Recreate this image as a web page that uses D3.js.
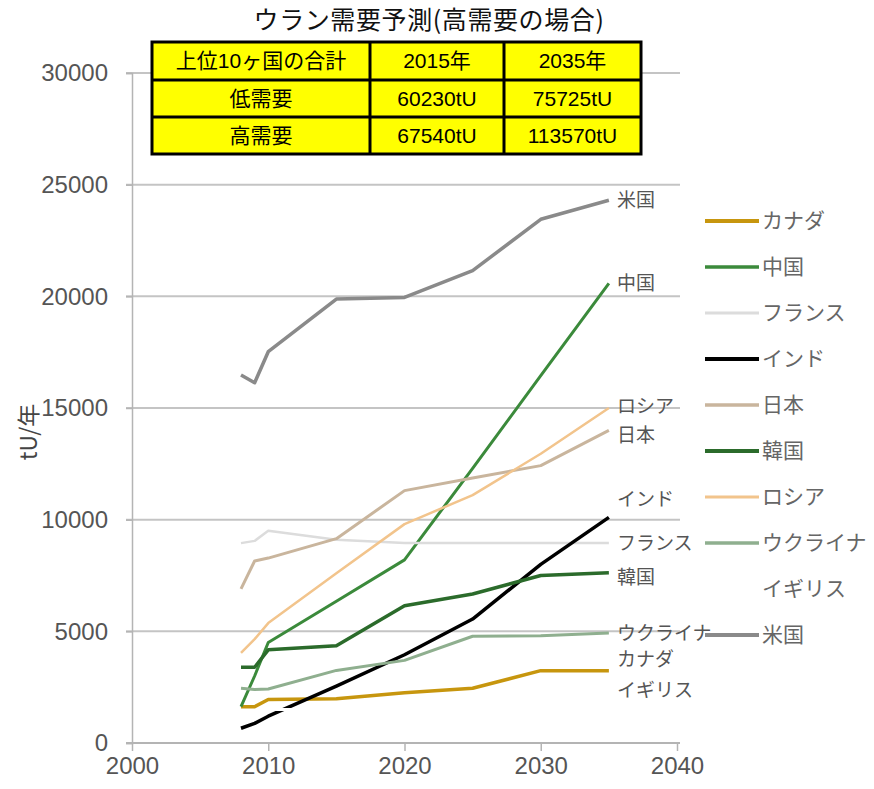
<!DOCTYPE html>
<html><head><meta charset="utf-8">
<script src="https://cdn.jsdelivr.net/npm/d3@7"></script>
<style>
body{margin:0;background:#fff}
svg{display:block}
</style>
</head><body>
<svg id="chart" width="874" height="789"></svg>
<script>
// Uranium demand projection (high-demand case), tU per year
const years = [2008, 2009, 2010, 2015, 2020, 2025, 2030, 2035];
const countries = ["カナダ", "中国", "フランス", "インド", "日本", "韓国", "ロシア", "ウクライナ", "イギリス", "米国"];
const canada  = [1625, 1625, 1950, 1980, 2250, 2450, 3240, 3240];
const china   = [1630, 3000, 4500, 6350, 8200, 12300, 16450, 20580];
const france  = [8950, 9050, 9500, 9100, 8950, 8950, 8950, 8950];
const india   = [660, 880, 1200, 2550, 3950, 5550, 8000, 10100];
const japan   = [6900, 8150, 8280, 9150, 11300, 11870, 12420, 14000];
const korea   = [3390, 3390, 4170, 4350, 6150, 6670, 7500, 7620];
const russia  = [4030, 4650, 5370, 7600, 9800, 11100, 12950, 15000];
const ukraine = [2450, 2400, 2420, 3250, 3700, 4780, 4800, 4920];
const uk      = [1300, 1400, 1500, 1500, 1500, 1500, 1500, 1500];
const usa     = [16480, 16130, 17520, 19880, 19950, 21150, 23450, 24300];
const seriesValues = [canada, china, france, india, japan, korea, russia, ukraine, uk, usa];

const xTicks = [2000, 2010, 2020, 2030, 2040];
const yTicks = [0, 5000, 10000, 15000, 20000, 25000, 30000];

const chartTitle = "ウラン需要予測(高需要の場合)";
const yTitle = "tU/年";
const tableHeader = ["上位10ヶ国の合計", "2015年", "2035年"];
const tableLabels = ["低需要", "高需要"];
const table2015 = ["60230tU", "67540tU"];
const table2035 = ["75725tU", "113570tU"];

// styling per series (same order as countries)
const colors = ["#c7960e", "#3b8a3b", "#dcdcdc", "#000000", "#c9b59d",
                "#2b6b2b", "#f2c48c", "#8faf8f", "#ffffff", "#8a8a8a"];
const widths = [3.5, 3, 2.5, 3.5, 3, 3.5, 2.5, 3, 3, 3.5];
// vertical nudges (px) for end-of-line labels so they do not collide
const labelNudge = {"インド": -18, "韓国": 5, "カナダ": -11, "イギリス": -19, "ロシア": -2, "日本": 5};

const svg = d3.select("#chart");
const latin = "'Liberation Sans', Arial, 'Noto Sans CJK JP', sans-serif";
const jp = "'Noto Sans CJK JP', 'Liberation Sans', sans-serif";
const textGray = "#555";

const x = d3.scaleLinear().domain([2000, 2040]).range([132, 677]);
const y = d3.scaleLinear().domain([0, 30000]).range([743, 73]);

// horizontal gridlines
svg.append("g")
  .selectAll("line").data(yTicks.filter(d => d > 0)).join("line")
  .attr("x1", 126).attr("x2", 680)
  .attr("y1", d => y(d)).attr("y2", d => y(d))
  .attr("stroke", "#c4c4c4").attr("stroke-width", 2);

// y axis
const yAxis = svg.append("g").attr("transform", `translate(${x(2000)},0)`)
  .call(d3.axisLeft(y).tickValues(yTicks).tickSize(6).tickPadding(18).tickFormat(d3.format("d")));
yAxis.select(".domain").attr("stroke", "#b4b4b4").attr("stroke-width", 1.5);
yAxis.selectAll(".tick line").attr("stroke", "#b4b4b4").attr("stroke-width", 1.5);
yAxis.selectAll("text").attr("font-family", latin).attr("font-size", 24).attr("fill", textGray);

// x axis
const xAxis = svg.append("g").attr("transform", `translate(0,${y(0)})`)
  .call(d3.axisBottom(x).tickValues(xTicks).tickSize(8).tickPadding(6).tickFormat(d3.format("d")));
xAxis.select(".domain").attr("stroke", "#b4b4b4").attr("stroke-width", 2).attr("d", `M126,0H680`);
xAxis.selectAll(".tick line").attr("stroke", "#b4b4b4").attr("stroke-width", 1.5);
xAxis.selectAll("text").attr("font-family", latin).attr("font-size", 24).attr("fill", textGray);

// y axis title
svg.append("text")
  .attr("transform", "translate(37,432) rotate(-90)")
  .attr("text-anchor", "middle")
  .attr("font-family", jp).attr("font-size", 23).attr("fill", "#444")
  .text(yTitle);

// lines
const line = d3.line().x((d, i) => x(years[i])).y(d => y(d));
svg.append("g").selectAll("path").data(seriesValues).join("path")
  .attr("d", d => line(d))
  .attr("fill", "none")
  .attr("stroke", (d, i) => colors[i])
  .attr("stroke-width", (d, i) => widths[i])
  .attr("stroke-linejoin", "round");

// labels at line ends
svg.append("g").selectAll("text").data(countries).join("text")
  .attr("x", x(years[years.length - 1]) + 8)
  .attr("y", (c, i) => y(seriesValues[i][years.length - 1]) + (labelNudge[c] || 0))
  .attr("dy", "0.35em")
  .attr("font-family", jp).attr("font-size", 19).attr("fill", textGray)
  .text(c => c);

// legend
const legend = svg.append("g").selectAll("g").data(countries).join("g")
  .attr("transform", (c, i) => `translate(705,${221 + i * 46})`);
legend.append("line").attr("x1", 0).attr("x2", 54).attr("y1", 0).attr("y2", 0)
  .attr("stroke", (c, i) => colors[i]).attr("stroke-width", (c, i) => widths[i] + 0.5);
legend.append("text").attr("x", 57).attr("dy", "0.35em")
  .attr("font-family", jp).attr("font-size", 21).attr("fill", "#666")
  .text(c => c);

// title
svg.append("text").attr("x", 429).attr("y", 29).attr("text-anchor", "middle")
  .attr("font-family", jp).attr("font-size", 25).attr("letter-spacing", 0.6).attr("fill", "#111")
  .text(chartTitle);

// summary table
const colEdges = [152, 370, 504, 641];
const rowEdges = [42, 80, 117, 154];
const cells = [tableHeader,
  [tableLabels[0], table2015[0], table2035[0]],
  [tableLabels[1], table2015[1], table2035[1]]];
const tbl = svg.append("g");
tbl.append("rect").attr("x", colEdges[0]).attr("y", rowEdges[0])
  .attr("width", colEdges[3] - colEdges[0]).attr("height", rowEdges[3] - rowEdges[0])
  .attr("fill", "#ffff00").attr("stroke", "#000").attr("stroke-width", 3);
[1, 2].forEach(k => {
  tbl.append("line").attr("x1", colEdges[k]).attr("x2", colEdges[k])
    .attr("y1", rowEdges[0]).attr("y2", rowEdges[3]).attr("stroke", "#000").attr("stroke-width", 3);
  tbl.append("line").attr("y1", rowEdges[k]).attr("y2", rowEdges[k])
    .attr("x1", colEdges[0]).attr("x2", colEdges[3]).attr("stroke", "#000").attr("stroke-width", 3);
});
cells.forEach((row, r) => row.forEach((txt, c) => {
  tbl.append("text")
    .attr("x", (colEdges[c] + colEdges[c + 1]) / 2)
    .attr("y", (rowEdges[r] + rowEdges[r + 1]) / 2)
    .attr("dy", "0.35em").attr("text-anchor", "middle")
    .attr("font-family", latin).attr("font-size", 21).attr("fill", "#000")
    .text(txt);
}));
</script>
</body></html>
